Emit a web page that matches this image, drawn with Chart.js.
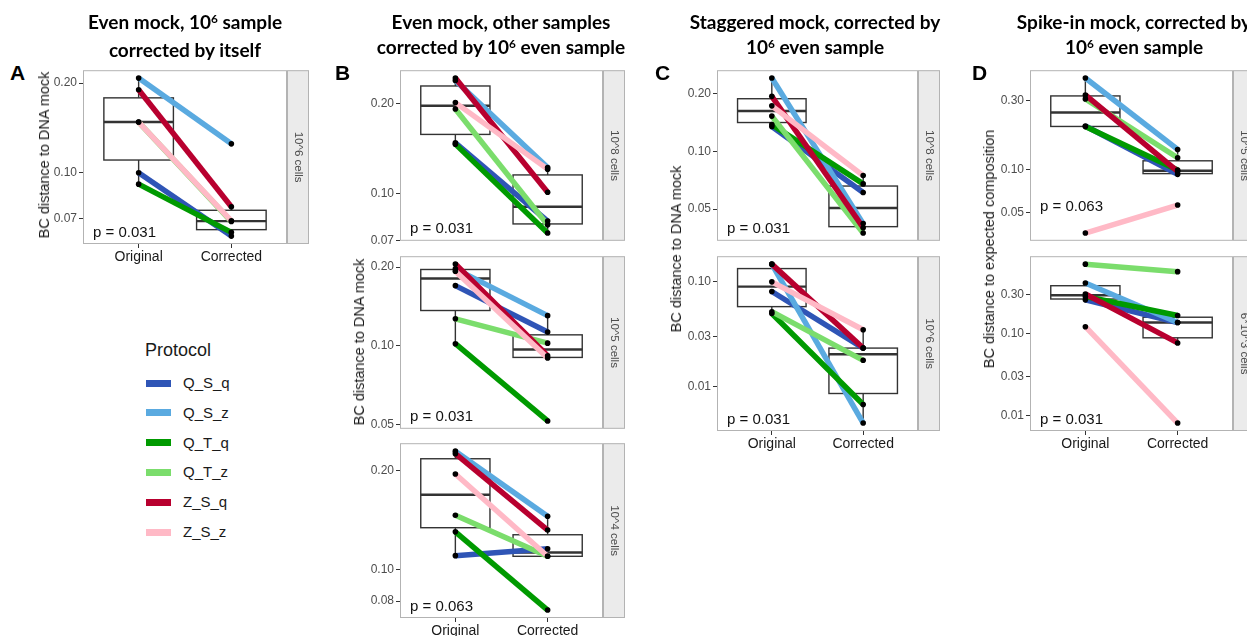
<!DOCTYPE html>
<html>
<head>
<meta charset="utf-8">
<script src="https://cdn.jsdelivr.net/npm/chart.js@4.4.1/dist/chart.umd.min.js"></script>
<style>
  html, body { margin:0; padding:0; background:#fff; }
  #root { position:relative; width:1247px; height:636px; overflow:hidden; background:#fff; font-family:"Liberation Sans", Arial, sans-serif; }
  .title { position:absolute; font-family:Lato, "Liberation Sans", sans-serif; font-weight:bold; font-size:19px; line-height:25px; text-align:center; color:#000; white-space:nowrap; transform:translateX(-50%); }
  .title sup { font-size:0.62em; vertical-align:0; position:relative; top:-0.55em; }
  .letter { position:absolute; font-family:"Liberation Sans", Arial, sans-serif; font-weight:bold; font-size:21px; line-height:26px; color:#000; }
  .ytitle { position:absolute; font-size:14.5px; color:#1a1a1a; white-space:nowrap; transform:translate(-50%,-50%) rotate(-90deg); }
  .legtitle { position:absolute; font-size:18px; color:#1a1a1a; }
  .legsw { position:absolute; width:25px; height:7px; }
  .leglab { position:absolute; font-size:15px; color:#1a1a1a; line-height:18px; }
</style>
</head>
<body>
<div id="root"></div>
<script>
// ---------------- DATA ----------------
const categories = ['Original', 'Corrected'];
const protocols = ['Q_S_q', 'Q_S_z', 'Q_T_q', 'Q_T_z', 'Z_S_q', 'Z_S_z'];
const protocolColors = ['#2F55B6', '#5AAAE0', '#009A00', '#7BDD6C', '#B8002F', '#FFB9C6'];

// Panel A: Even mock, 10^6 sample corrected by itself (10^6 cells)
const A_orig = [0.100, 0.208, 0.0915, 0.148, 0.190, 0.148];
const A_corr = [0.0612, 0.125, 0.063, 0.0685, 0.0768, 0.0689];
// Panel B: Even mock, other samples corrected by 10^6 even sample
const B8_orig = [0.148, 0.239, 0.1466, 0.192, 0.2436, 0.2016];
const B8_corr = [0.0812, 0.1226, 0.0741, 0.0789, 0.1013, 0.121];
const B5_orig = [0.170, 0.197, 0.102, 0.127, 0.2056, 0.193];
const B5_corr = [0.113, 0.1306, 0.0517, 0.1025, 0.0917, 0.090];
const B4_orig = [0.110, 0.229, 0.130, 0.146, 0.225, 0.195];
const B4_corr = [0.1155, 0.145, 0.0751, 0.1095, 0.1316, 0.1095];
// Panel C: Staggered mock, corrected by 10^6 even sample
const C8_orig = [0.135, 0.242, 0.138, 0.153, 0.194, 0.173];
const C8_corr = [0.0611, 0.042, 0.0677, 0.0375, 0.040, 0.0748];
const C6_orig = [0.081, 0.1475, 0.050, 0.052, 0.1475, 0.100];
const C6_corr = [0.0234, 0.00452, 0.00678, 0.0179, 0.0234, 0.035];
// Panel D: Spike-in mock, corrected by 10^6 even sample
const D5_orig = [0.200, 0.43, 0.198, 0.308, 0.328, 0.0363];
const D5_corr = [0.0925, 0.1376, 0.099, 0.1206, 0.097, 0.0567];
const D3_orig = [0.261, 0.42, 0.287, 0.714, 0.308, 0.1225];
const D3_corr = [0.138, 0.138, 0.168, 0.578, 0.0775, 0.0081];

// tick values per facet
const A_ticks  = [0.07, 0.10, 0.20];
const B8_ticks = [0.07, 0.10, 0.20];
const B5_ticks = [0.05, 0.10, 0.20];
const B4_ticks = [0.08, 0.10, 0.20];
const C8_ticks = [0.05, 0.10, 0.20];
const C6_ticks = [0.01, 0.03, 0.10];
const D5_ticks = [0.05, 0.10, 0.30];
const D3_ticks = [0.01, 0.03, 0.10, 0.30];

const stripLabels = ['10^6 cells', '10^8 cells', '10^5 cells', '10^4 cells', '10^8 cells', '10^6 cells', '10^5 cells', '6*10^3 cells'];
const pValues = ['0.031', '0.031', '0.031', '0.063', '0.031', '0.031', '0.063', '0.031'];

// ---------------- LAYOUT ----------------
const facets = [
  {orig:A_orig,  corr:A_corr,  ticks:A_ticks,  L:83,   T:67,  R:287,  B:244, hasX:true,  pOff:11.5},
  {orig:B8_orig, corr:B8_corr, ticks:B8_ticks, L:400,  T:67,  R:603,  B:244, hasX:false, pOff:11.5},
  {orig:B5_orig, corr:B5_corr, ticks:B5_ticks, L:400,  T:253, R:603,  B:432, hasX:false, pOff:11.5},
  {orig:B4_orig, corr:B4_corr, ticks:B4_ticks, L:400,  T:440, R:603,  B:618, hasX:true,  pOff:11.5},
  {orig:C8_orig, corr:C8_corr, ticks:C8_ticks, L:717,  T:67,  R:918,  B:244, hasX:false, pOff:11.5},
  {orig:C6_orig, corr:C6_corr, ticks:C6_ticks, L:717,  T:253, R:918,  B:431, hasX:true,  pOff:11.5},
  {orig:D5_orig, corr:D5_corr, ticks:D5_ticks, L:1030, T:67,  R:1233, B:244, hasX:false, pOff:34},
  {orig:D3_orig, corr:D3_corr, ticks:D3_ticks, L:1030, T:253, R:1233, B:431, hasX:true,  pOff:11.5},
];

const YAXW = 55, PADT = 6, STRIPW = 22, XAXH = 24;
const FONT = '"Liberation Sans", Arial, sans-serif';

function boxStats(vals) {
  const l = vals.map(Math.log10).sort((a, b) => a - b);
  const n = l.length;
  const q = p => { const h = (n - 1) * p, lo = Math.floor(h); return lo + 1 < n ? l[lo] + (h - lo) * (l[lo + 1] - l[lo]) : l[lo]; };
  const q1 = q(0.25), med = q(0.5), q3 = q(0.75), iqr = q3 - q1;
  const hiLim = q3 + 1.5 * iqr, loLim = q1 - 1.5 * iqr;
  const hi = Math.max(...l.filter(v => v <= hiLim));
  const lo = Math.min(...l.filter(v => v >= loLim));
  const p10 = v => Math.pow(10, v);
  return {q1: p10(q1), med: p10(med), q3: p10(q3), lo: p10(lo), hi: p10(hi)};
}

const facetPlugin = {
  id: 'facet',
  beforeDatasetsDraw(chart, args, opts) {
    const ctx = chart.ctx, x = chart.scales.x, y = chart.scales.y;
    ctx.save();
    ctx.strokeStyle = '#333333';
    [opts.orig, opts.corr].forEach((vals, k) => {
      const c = k + 1, s = boxStats(vals);
      const xl = x.getPixelForValue(c - 0.375), xr = x.getPixelForValue(c + 0.375), xc = x.getPixelForValue(c);
      ctx.lineWidth = 1.4;
      ctx.beginPath();
      ctx.moveTo(xc, y.getPixelForValue(s.q3)); ctx.lineTo(xc, y.getPixelForValue(s.hi));
      ctx.moveTo(xc, y.getPixelForValue(s.q1)); ctx.lineTo(xc, y.getPixelForValue(s.lo));
      ctx.stroke();
      ctx.strokeRect(xl, y.getPixelForValue(s.q3), xr - xl, y.getPixelForValue(s.q1) - y.getPixelForValue(s.q3));
      ctx.lineWidth = 2.4;
      ctx.beginPath();
      ctx.moveTo(xl, y.getPixelForValue(s.med)); ctx.lineTo(xr, y.getPixelForValue(s.med));
      ctx.stroke();
    });
    ctx.restore();
  },
  afterDraw(chart, args, opts) {
    const ctx = chart.ctx, a = chart.chartArea;
    ctx.save();
    ctx.strokeStyle = '#B3B3B3';
    ctx.lineWidth = 1;
    ctx.strokeRect(a.left + 0.5, a.top + 0.5, a.right - a.left - 1, a.bottom - a.top - 1);
    // strip
    ctx.fillStyle = '#EBEBEB';
    ctx.fillRect(a.right, a.top, STRIPW, a.bottom - a.top);
    ctx.strokeRect(a.right + 0.5, a.top + 0.5, STRIPW - 1, a.bottom - a.top - 1);
    ctx.translate(a.right + STRIPW / 2, (a.top + a.bottom) / 2);
    ctx.rotate(Math.PI / 2);
    ctx.fillStyle = '#4D4D4D';
    ctx.font = '11.5px ' + FONT;
    ctx.textAlign = 'center';
    ctx.textBaseline = 'middle';
    ctx.fillText(opts.strip, 0, 0);
    ctx.restore();
    // p value
    ctx.save();
    ctx.fillStyle = '#111';
    ctx.font = '15px ' + FONT;
    ctx.textAlign = 'left';
    ctx.textBaseline = 'middle';
    ctx.fillText('p = ' + opts.p, a.left + 10, a.bottom - opts.pOff);
    ctx.restore();
  }
};

const root = document.getElementById('root');

facets.forEach((f, idx) => {
  const w = (f.R - f.L) + YAXW + STRIPW + 2;
  const h = (f.B - f.T) + PADT + (f.hasX ? XAXH : PADT);
  const canvas = document.createElement('canvas');
  canvas.width = w; canvas.height = h;
  canvas.style.position = 'absolute';
  canvas.style.left = (f.L - YAXW) + 'px';
  canvas.style.top = (f.T - PADT) + 'px';
  canvas.style.width = w + 'px'; canvas.style.height = h + 'px';
  root.appendChild(canvas);

  const all = f.orig.concat(f.corr).map(Math.log10);
  const lmin = Math.min(...all), lmax = Math.max(...all), ex = (lmax - lmin) * 0.05;

  const datasets = protocols.map((p, i) => ({
    type: 'line', label: p,
    data: [{x: 1, y: f.orig[i]}, {x: 2, y: f.corr[i]}],
    borderColor: protocolColors[i], borderWidth: 5.5, borderCapStyle: 'butt',
    pointRadius: 0, order: 10 - i, fill: false, tension: 0
  }));
  const pts = [];
  protocols.forEach((p, i) => { pts.push({x: 1, y: f.orig[i]}); pts.push({x: 2, y: f.corr[i]}); });
  datasets.push({type: 'scatter', label: 'points', data: pts, pointRadius: 2.8, pointBackgroundColor: '#000', pointBorderWidth: 0, showLine: false, order: 0});

  new Chart(canvas, {
    type: 'line',
    data: {datasets},
    options: {
      responsive: false, animation: false, events: [],
      layout: {autoPadding: false, padding: {left: 0, top: PADT, right: STRIPW + 2, bottom: f.hasX ? 0 : PADT}},
      plugins: {
        legend: {display: false}, tooltip: {enabled: false},
        facet: {orig: f.orig, corr: f.corr, strip: stripLabels[idx], p: pValues[idx], pOff: f.pOff}
      },
      scales: {
        x: {
          type: 'linear', min: 0.4, max: 2.6, display: f.hasX,
          afterBuildTicks: s => { s.ticks = [{value: 1}, {value: 2}]; },
          afterFit: s => { s.height = f.hasX ? XAXH : 0; },
          ticks: {callback: v => categories[Math.round(v) - 1], color: '#1A1A1A', font: {size: 14, family: FONT}, padding: 1, autoSkip: false, maxRotation: 0},
          grid: {drawOnChartArea: false, drawTicks: true, tickLength: 4, color: '#333'},
          border: {display: false}
        },
        y: {
          type: 'logarithmic', min: Math.pow(10, lmin - ex), max: Math.pow(10, lmax + ex),
          afterBuildTicks: s => { s.ticks = f.ticks.map(v => ({value: v})); },
          afterFit: s => { s.width = YAXW; },
          ticks: {callback: v => Number(v).toFixed(2), color: '#4D4D4D', font: {size: 12, family: FONT}, padding: 2, autoSkip: false},
          grid: {drawOnChartArea: false, drawTicks: true, tickLength: 4, color: '#333'},
          border: {display: false}
        }
      }
    },
    plugins: [facetPlugin]
  });
});

// ---------------- TEXT ----------------
function addDiv(cls, html, style) {
  const d = document.createElement('div');
  d.className = cls; d.innerHTML = html;
  Object.assign(d.style, style);
  root.appendChild(d);
  return d;
}
addDiv('title', 'Even mock, 10<sup>6</sup> sample<br>corrected by itself', {left: '185px', top: '9px'});
addDiv('title', 'Even mock, other samples<br>corrected by 10<sup>6</sup> even sample', {left: '501px', top: '9px'});
addDiv('title', 'Staggered mock, corrected by<br>10<sup>6</sup> even sample', {left: '815px', top: '9px'});
addDiv('title', 'Spike-in mock, corrected by<br>10<sup>6</sup> even sample', {left: '1134px', top: '9px'});

addDiv('letter', 'A', {left: '10px', top: '60px'});
addDiv('letter', 'B', {left: '335px', top: '60px'});
addDiv('letter', 'C', {left: '655px', top: '60px'});
addDiv('letter', 'D', {left: '972px', top: '60px'});

addDiv('ytitle', 'BC distance to DNA mock', {left: '44px', top: '155px'});
addDiv('ytitle', 'BC distance to DNA mock', {left: '359px', top: '342px'});
addDiv('ytitle', 'BC distance to DNA mock', {left: '676px', top: '249px'});
addDiv('ytitle', 'BC distance to expected composition', {left: '989px', top: '249px'});

// legend
addDiv('legtitle', 'Protocol', {left: '145px', top: '340px'});
protocols.forEach((p, i) => {
  const cy = 383 + i * 29.8;
  addDiv('legsw', '', {left: '146px', top: (cy - 3.5) + 'px', background: protocolColors[i]});
  addDiv('leglab', p, {left: '183px', top: (cy - 9) + 'px'});
});
</script>
</body>
</html>
